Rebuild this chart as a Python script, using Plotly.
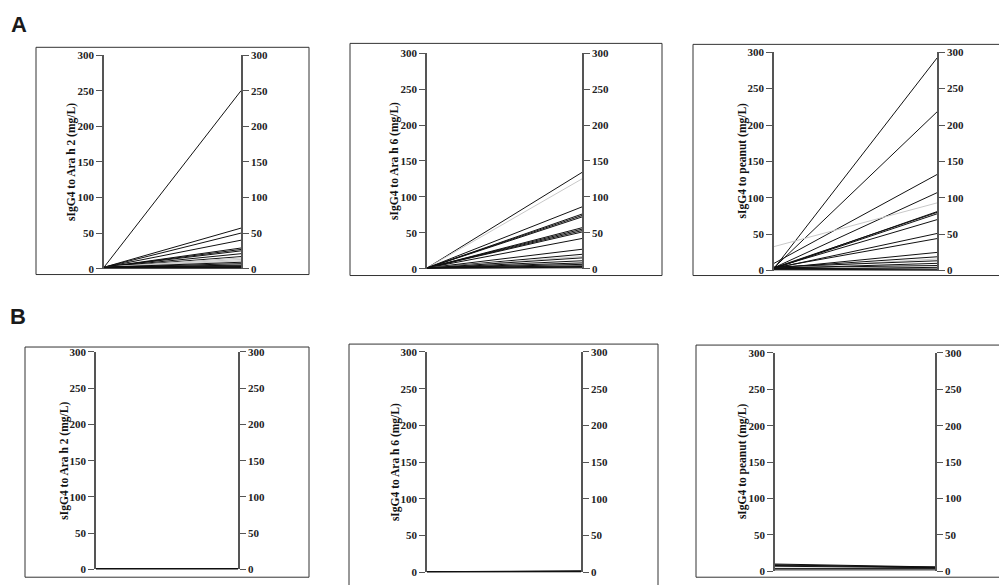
import plotly.graph_objects as go

# ---------------- data ----------------
TIMEPOINTS = ["pre", "post"]
Y_TICKS = [0, 50, 100, 150, 200, 250, 300]

panel_titles = [
    "sIgG4 to Ara h 2 (mg/L)",
    "sIgG4 to Ara h 6 (mg/L)",
    "sIgG4 to peanut (mg/L)",
    "sIgG4 to Ara h 2 (mg/L)",
    "sIgG4 to Ara h 6 (mg/L)",
    "sIgG4 to peanut (mg/L)",
]

# Group A
a_arah2_pre = [2, 2, 2, 2, 2, 2, 2, 2, 2, 2, 2, 2, 2, 2, 2, 2, 2, 2, 1.5, 1, 0.5]
a_arah2_post = [250, 57, 50, 40, 29, 27, 25, 21, 17, 15, 13, 11, 9, 7, 5, 4, 3, 2, 1.5, 1, 0.5]

a_arah6_pre = [1, 1, 1, 1, 1, 1, 1, 1, 1, 1, 1, 1, 1, 1, 1, 1, 1, 1, 1, 1, 0.5, 0.5]
a_arah6_post = [134, 125, 86, 76, 74, 72, 57, 55, 53, 51, 42, 27, 20, 17, 15, 11, 8, 6, 4, 3, 2, 1]

a_peanut_pre = [3, 4, 10, 4, 33, 3, 4, 3, 4, 3, 4, 3, 4, 3, 5, 3, 4, 2, 3, 2, 1]
a_peanut_post = [292, 218, 132, 107, 93, 81, 80, 78, 70, 51, 44, 25, 19, 16, 13.5, 10, 7, 4.5, 2.2, 1, 0.5]

# Group B
b_arah2_pre = [1.2, 1, 0.8, 0.6, 0.5, 0.4, 0.3]
b_arah2_post = [1.2, 1, 0.8, 0.6, 0.5, 0.4, 0.3]

b_arah6_pre = [0.8, 0.6, 0.5, 0.4, 0.3, 0.2]
b_arah6_post = [2, 1.5, 1.2, 0.8, 0.5, 0.3]

b_peanut_pre = [10, 9, 8, 7, 4, 2]
b_peanut_post = [6, 5, 6, 5, 4, 2]

# ---------------- styles ----------------
gray_lines = [
    [9, 10, 11],   # A Ara h 2
    [1, 13],       # A Ara h 6
    [4, 13],       # A peanut
    [], [], [],
]
series = [
    (a_arah2_pre, a_arah2_post),
    (a_arah6_pre, a_arah6_post),
    (a_peanut_pre, a_peanut_post),
    (b_arah2_pre, b_arah2_post),
    (b_arah6_pre, b_arah6_post),
    (b_peanut_pre, b_peanut_post),
]

W, H = 1007, 585
OFF = 8  # page body margin
# axis geometry in page pixels: left axis x, right axis x, y of 300, y of 0
geom = [
    (104, 241, 50, 268),
    (427, 582, 48, 268),
    (774, 937, 47, 270),
    (96, 238, 353, 575),
    (427, 581, 353, 578),
    (775, 935, 354, 577),
]
# frames (x0, y0, x1, y1) in page pixels
frames = [
    (36, 42, 309, 274),
    (350, 38, 662, 275),
    (693, 39, 1030, 275),
    (25, 348, 309, 583),
    (349, 345, 658, 600),
    (696, 346, 1030, 583),
]
title_x = [72, 395, 742, 65, 395, 742]


def px(x):
    return (x - OFF) / W


def py(y):
    return (H - (y - OFF)) / H


SERIF = "Liberation Serif"
AXIS_COLOR = "#555555"

fig = go.Figure()
layout = dict(
    width=W, height=H, autosize=False,
    margin=dict(l=0, r=0, t=0, b=0),
    paper_bgcolor="white", plot_bgcolor="rgba(0,0,0,0)",
    showlegend=False,
    shapes=[], annotations=[],
)

for i, ((pre, post), (xl, xr, y300, y0)) in enumerate(zip(series, geom)):
    n = i + 1
    xa = "x" if n == 1 else f"x{n}"
    ya = "y" if n == 1 else f"y{n}"
    ya_r_num = n + 6
    ya_r = f"y{ya_r_num}"
    xdom = [px(xl), px(xr)]
    ydom = [py(y0), py(y300)]
    for k, (a, b) in enumerate(zip(pre, post)):
        col = "#c8c8c8" if k in gray_lines[i] else "#111111"
        fig.add_trace(go.Scatter(
            x=TIMEPOINTS, y=[a, b], xaxis=xa, yaxis=ya,
            mode="lines", line=dict(color=col, width=1),
            hoverinfo="skip",
        ))
    fig.add_trace(go.Scatter(x=TIMEPOINTS, y=[None, None], xaxis=xa, yaxis=ya_r,
                             mode="lines", hoverinfo="skip"))
    xkey = "xaxis" if n == 1 else f"xaxis{n}"
    ykey = "yaxis" if n == 1 else f"yaxis{n}"
    yrkey = f"yaxis{ya_r_num}"
    layout[xkey] = dict(domain=xdom, anchor=ya, type="category",
                        range=[0, 1], visible=False, fixedrange=True)
    tick_common = dict(
        range=[0, 300], tickvals=Y_TICKS, ticks="outside", ticklen=6,
        tickwidth=1.2, tickcolor=AXIS_COLOR, showline=True, linecolor=AXIS_COLOR,
        linewidth=1.6, showgrid=False, zeroline=False, domain=ydom,
        tickfont=dict(family=SERIF, size=11, color="#222222", weight="bold"),
        ticklabelstandoff=0, fixedrange=True,
    )
    layout[ykey] = dict(anchor=xa, side="left", **tick_common)
    layout[yrkey] = dict(anchor=xa, side="right", overlaying=ya, **tick_common)

    fx0, fy0, fx1, fy1 = frames[i]
    layout["shapes"].append(dict(
        type="rect", xref="paper", yref="paper",
        x0=px(fx0), x1=px(fx1), y0=py(fy1), y1=py(fy0),
        line=dict(color="#333333", width=1), fillcolor="rgba(0,0,0,0)", layer="below",
    ))
    layout["annotations"].append(dict(
        text=panel_titles[i], xref="paper", yref="paper",
        x=px(title_x[i]), y=py((y300 + y0) / 2),
        xanchor="center", yanchor="middle", textangle=-90, showarrow=False,
        font=dict(family=SERIF, size=11.5, color="#111111", weight="bold"),
    ))

for letter, lx, ly in [("A", 18.5, 19), ("B", 17.5, 317)]:
    layout["annotations"].append(dict(
        text=letter, xref="paper", yref="paper", x=px(lx), y=py(ly),
        xanchor="center", yanchor="middle", showarrow=False,
        font=dict(family="Liberation Sans", size=22, color="#1a1a1a", weight="bold"),
    ))

fig.update_layout(**layout)
fig.write_html("out.html")
